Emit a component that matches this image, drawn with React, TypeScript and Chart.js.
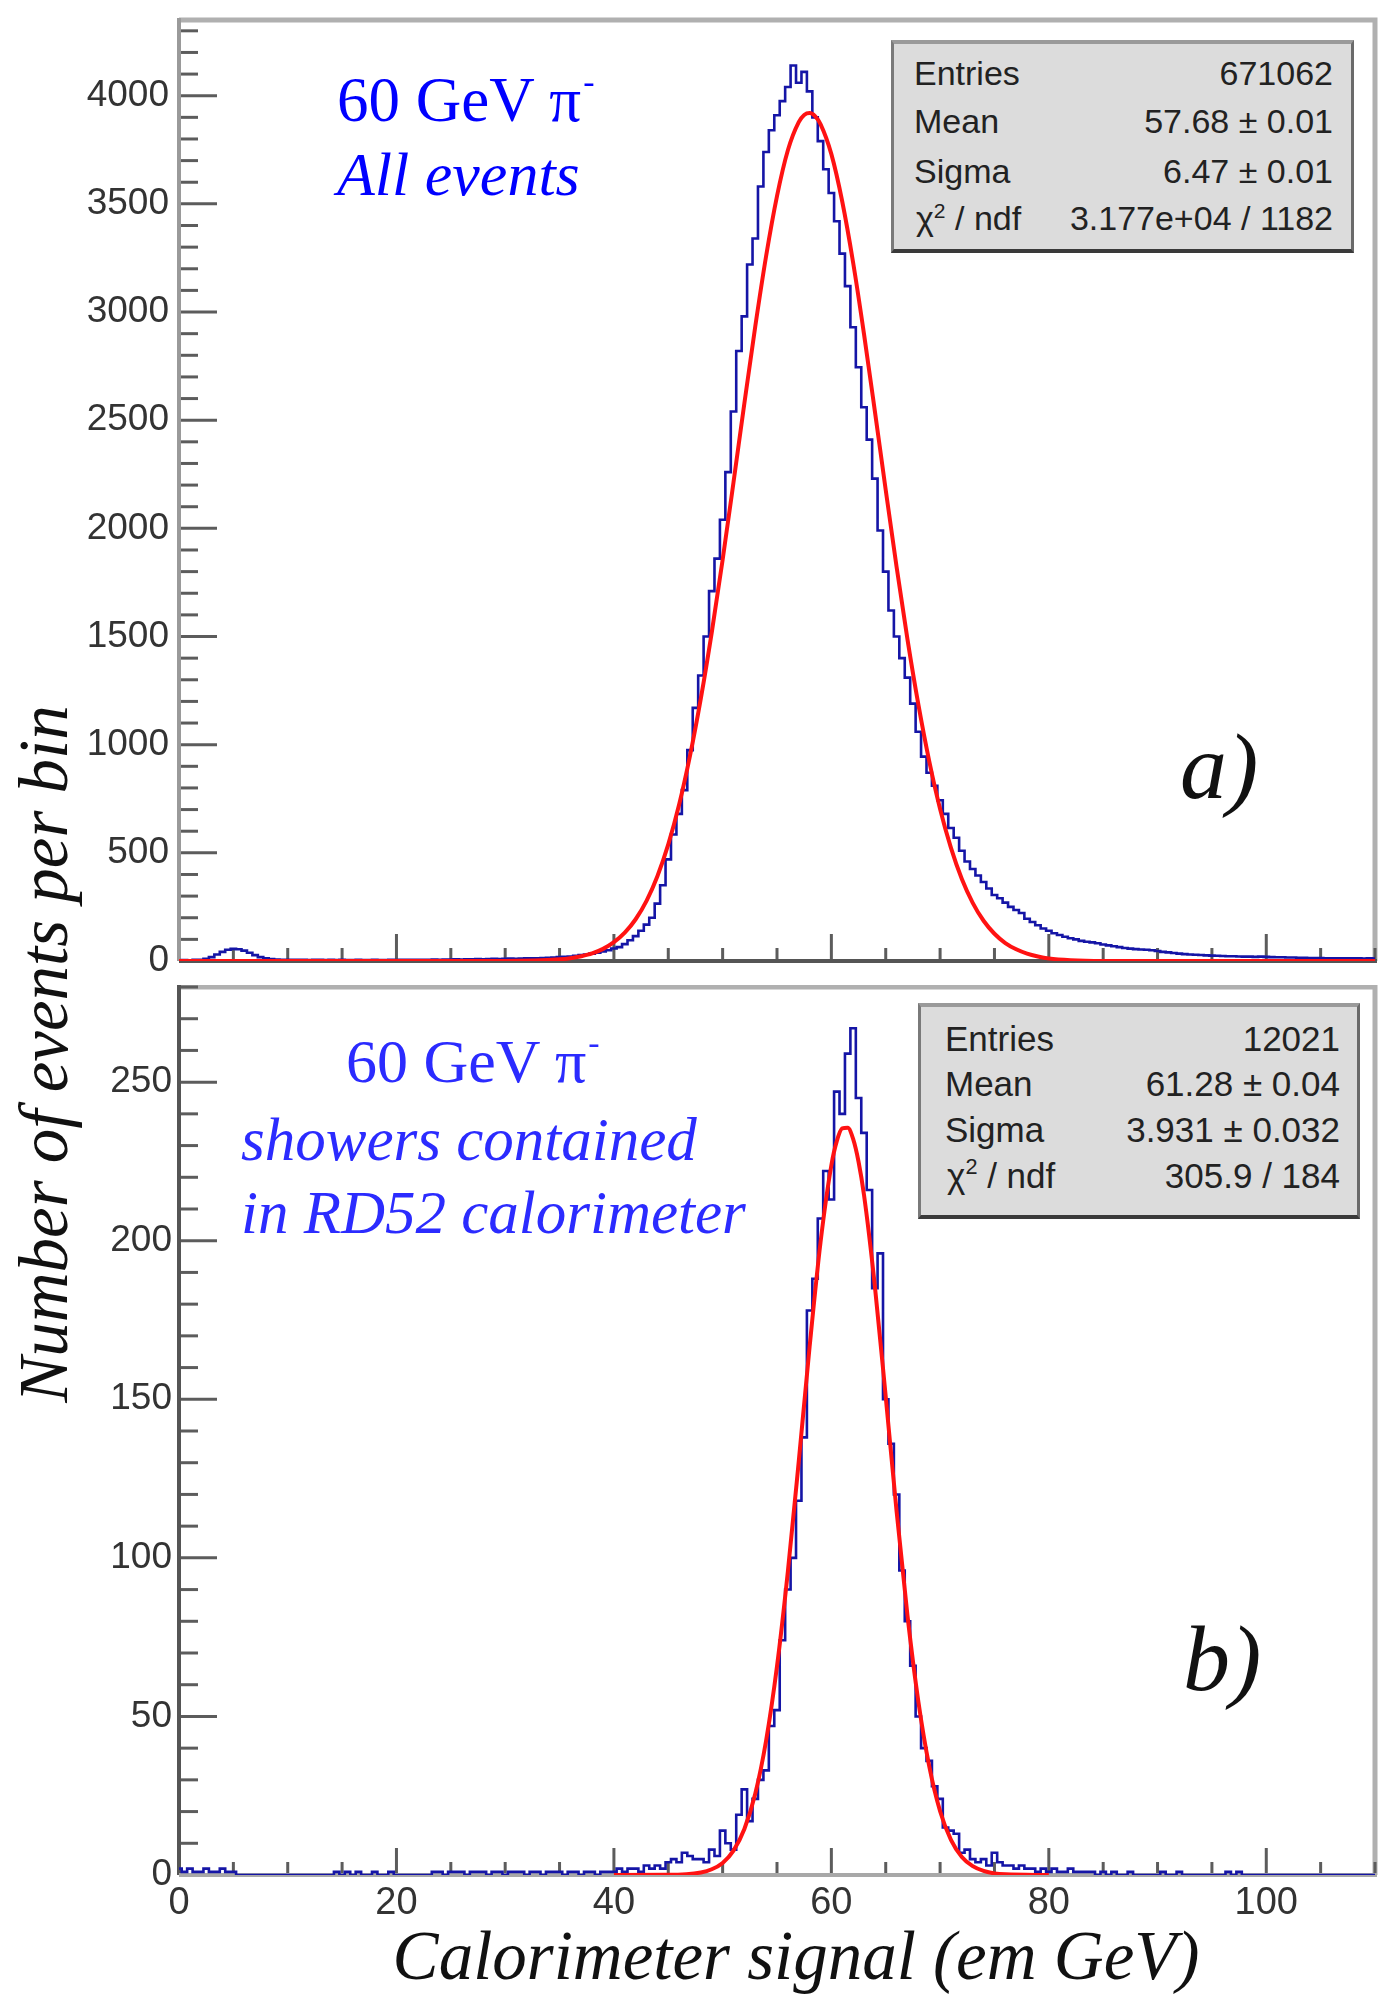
import React, { useEffect, useRef } from "react";
import { Chart, registerables } from "chart.js";

Chart.register(...registerables);

const SERIF = '"Liberation Serif", "DejaVu Serif", serif';
const SANS = '"Liberation Sans", Arial, sans-serif';
const BLUE = "#1515a6";
const RED = "#ff1212";

// ---------- data ----------
const BIN_WIDTH = 0.5; // GeV per plotted bin
const X_MIN = 0;
const X_MAX = 110;
const X_LABELS = [0, 20, 40, 60, 80, 100];

// panel a) histogram, bins from 0 GeV in 0.5 GeV steps (10 values per 5 GeV)
const histA = [
  3, 4, 3, 5, 6, 10, 18, 30, 42, 52,
  56, 54, 48, 38, 27, 18, 12, 9, 7, 6,
  6, 5, 6, 5, 4, 5, 5, 4, 5, 4,
  5, 4, 4, 5, 4, 4, 5, 4, 4, 5,
  4, 5, 5, 6, 5, 6, 6, 7, 6, 7,
  7, 8, 7, 8, 8, 9, 8, 9, 10, 9,
  10, 11, 10, 11, 12, 12, 13, 14, 15, 16,
  18, 19, 21, 24, 27, 30, 34, 38, 44, 50,
  58, 64, 78, 96, 115, 140, 168, 200, 265, 350,
  470, 585, 680, 790, 975, 1170, 1320, 1500, 1710, 1860,
  2040, 2260, 2540, 2820, 2980, 3220, 3340, 3580, 3740, 3840,
  3910, 3975, 4040, 4140, 4060, 4110, 4020, 3900, 3790, 3660,
  3550, 3420, 3270, 3120, 2930, 2745, 2560, 2410, 2230, 1990,
  1800, 1620, 1500, 1400, 1310, 1190, 1060, 945, 870, 810,
  743, 680, 615, 570, 510, 460, 425, 395, 365, 335,
  305, 290, 270, 250, 236, 222, 195, 180, 165, 150,
  140, 128, 120, 112, 105, 100, 93, 89, 86, 82,
  76, 72, 68, 64, 60, 57, 55, 53, 52, 50,
  46, 42, 40, 37, 34, 32, 30, 29, 28, 26,
  25, 24, 23, 22, 22, 21, 20, 20, 19, 20,
  19, 18, 17, 17, 16, 16, 15, 15, 14, 14,
  14, 13, 13, 13, 12, 12, 12, 12, 11, 12,
  11,
];

// panel a) fitted curve (read off the picture)
const fitAx = [0, 30, 35, 36, 37, 38, 39, 40, 41, 42, 43, 44, 45, 46, 47, 48, 49, 50, 51, 52, 53, 54, 55, 56, 57, 57.5, 58, 58.5, 59, 60, 61, 62, 63, 64, 65, 66, 67, 68, 69, 70, 71, 72, 73, 74, 75, 76, 77, 78, 79, 80, 82, 85, 90, 110];
const fitAy = [0, 0.4, 7.7, 13, 22, 35, 56, 87, 131, 193, 278, 392, 539, 723, 949, 1215, 1519, 1855, 2213, 2578, 2933, 3259, 3536, 3748, 3878, 3911, 3920, 3906, 3869, 3730, 3511, 3229, 2899, 2542, 2177, 1821, 1487, 1186, 924, 703, 523, 379, 269, 186, 126, 83, 54, 34, 21, 12, 4, 0.4, 0, 0];

// panel b) histogram, bins from 0 GeV in 0.5 GeV steps
const histB = [
  2, 1, 2, 1, 1, 2, 1, 1, 2, 1,
  1, 0, 0, 0, 0, 0, 0, 0, 0, 0,
  0, 0, 0, 0, 0, 0, 0, 0, 0, 1,
  0, 1, 0, 1, 0, 0, 1, 0, 0, 1,
  0, 0, 0, 0, 0, 0, 0, 1, 1, 0,
  1, 1, 1, 0, 1, 1, 1, 0, 1, 1,
  0, 1, 1, 1, 0, 1, 1, 0, 1, 1,
  1, 0, 1, 1, 0, 1, 1, 0, 1, 1,
  1, 2, 1, 2, 2, 1, 3, 2, 3, 2,
  4, 5, 4, 7, 6, 5, 5, 4, 8, 6,
  14, 10, 8, 19, 27, 17, 24, 30, 33, 47,
  52, 74, 90, 100, 118, 138, 178, 188, 207, 222,
  213, 247, 240, 259, 267, 245, 234, 216, 185, 196,
  150, 136, 120, 96, 80, 66, 50, 40, 36, 28,
  24, 15, 14, 13, 7, 8, 5, 4, 5, 3,
  7, 4, 3, 3, 2, 3, 2, 2, 1, 2,
  1, 2, 1, 1, 2, 1, 1, 1, 1, 0,
  1, 0, 1, 0, 0, 1, 0, 0, 0, 0,
  0, 1, 0, 0, 1, 0, 0, 0, 0, 0,
  0, 0, 0, 1, 0, 1, 0, 0, 0, 0,
  0, 0, 0, 0, 0, 0, 0, 0, 0, 0,
  0, 0, 0, 0, 0, 0, 0, 0, 0, 0,
  0,
];

// panel b) fitted curve
const fitBx = [40, 45, 48, 49, 50, 51, 52, 53, 54, 55, 56, 57, 58, 59, 60, 60.5, 61, 61.5, 62, 62.5, 63, 64, 65, 66, 67, 68, 69, 70, 71, 72, 73, 74, 75, 76, 80];
const fitBy = [0, 0.04, 0.8, 1.8, 3.8, 7.7, 14.5, 25.6, 42.4, 65.8, 95.7, 130.4, 166.6, 199.4, 223.8, 231.4, 235.4, 235.6, 232.1, 224.9, 214.5, 185.7, 150.8, 114.7, 81.8, 54.7, 34.3, 20.1, 11.1, 5.7, 2.8, 1.3, 0.5, 0.2, 0];

// axis ranges / tick labels
const Y_MAX_A = 4350;
const Y_TICKS_A = [0, 500, 1000, 1500, 2000, 2500, 3000, 3500, 4000];
const Y_MINOR_A = 100;
const Y_MAX_B = 280;
const Y_TICKS_B = [0, 50, 100, 150, 200, 250];
const Y_MINOR_B = 10;

// stats boxes
const statLabels = ["Entries", "Mean", "Sigma", "chi2"];
const statValuesA = ["671062", "57.68 \u00b1 0.01", "6.47 \u00b1 0.01", "3.177e+04 / 1182"];
const statValuesB = ["12021", "61.28 \u00b1 0.04", "3.931 \u00b1 0.032", "305.9 / 184"];

// ---------- frame / inner ticks plugin ----------
const framePlugin = {
  id: "rootFrame",
  beforeDatasetsDraw(chart: any) {
    const o = chart.options.plugins.rootFrame;
    const { ctx, chartArea: a, scales } = chart;
    ctx.save();
    // top & right frame
    ctx.strokeStyle = "#b0b0b0";
    ctx.lineWidth = 5;
    ctx.beginPath();
    ctx.moveTo(a.left, a.top);
    ctx.lineTo(a.right, a.top);
    ctx.lineTo(a.right, a.bottom);
    ctx.stroke();
    // y ticks
    const ys = scales.y;
    const yMajor = o.yTicks[1] - o.yTicks[0];
    ctx.strokeStyle = "#5c5c5c";
    ctx.lineWidth = 3;
    const nY = Math.floor(ys.max / o.yMinor + 1e-6);
    for (let i = 0; i <= nY; i++) {
      const v = i * o.yMinor;
      const py = ys.getPixelForValue(v);
      const major = Math.abs(v / yMajor - Math.round(v / yMajor)) < 1e-6;
      ctx.beginPath();
      ctx.moveTo(a.left, py);
      ctx.lineTo(a.left + (major ? 38 : 19), py);
      ctx.stroke();
    }
    // x ticks
    const xs = scales.x;
    const nX = Math.floor((xs.max - xs.min) / 5 + 1e-6);
    for (let i = 0; i <= nX; i++) {
      const v = xs.min + i * 5;
      const px = xs.getPixelForValue(v);
      const major = v % 20 === 0;
      ctx.beginPath();
      ctx.moveTo(px, a.bottom);
      ctx.lineTo(px, a.bottom - (major ? 27 : 13));
      ctx.stroke();
    }
    // axes
    ctx.lineWidth = 4;
    ctx.strokeStyle = o.leftColor;
    ctx.beginPath();
    ctx.moveTo(a.left, a.top - 2);
    ctx.lineTo(a.left, a.bottom);
    ctx.stroke();
    ctx.strokeStyle = o.bottomColor;
    ctx.beginPath();
    ctx.moveTo(a.left, a.bottom);
    ctx.lineTo(a.right + 2, a.bottom);
    ctx.stroke();
    ctx.restore();
  },
};

function zeroPad(s: any) {
  s.paddingTop = 0;
  s.paddingBottom = 0;
  s.paddingLeft = 0;
  s.paddingRight = 0;
}

function buildConfig(hist: number[], fx: number[], fy: number[], p: any) {
  return {
    type: "line",
    data: {
      datasets: [
        {
          data: fx.map((x, i) => ({ x, y: fy[i] })),
          borderColor: RED,
          borderWidth: 4,
          cubicInterpolationMode: "monotone",
          pointRadius: 0,
          fill: false,
        },
        {
          data: hist.map((v, i) => ({ x: X_MIN + i * BIN_WIDTH, y: v })),
          borderColor: BLUE,
          borderWidth: 2.6,
          stepped: "middle",
          pointRadius: 0,
          fill: false,
        },
      ],
    },
    options: {
      responsive: false,
      animation: false,
      events: [],
      layout: { padding: { left: 0, right: 19, top: p.padTop, bottom: 0 } },
      plugins: {
        legend: { display: false },
        tooltip: { enabled: false },
        rootFrame: p,
      },
      scales: {
        x: {
          type: "linear",
          min: X_MIN,
          max: X_MAX,
          grid: { display: false, drawTicks: false },
          border: { display: false },
          ticks: {
            display: p.xLabels,
            autoSkip: false,
            maxRotation: 0,
            padding: 6,
            color: "#333",
            font: { family: SANS, size: 38 },
          },
          afterBuildTicks: (s: any) => {
            s.ticks = X_LABELS.map((v) => ({ value: v }));
          },
          afterFit: (s: any) => {
            s.height = p.xHeight;
            zeroPad(s);
          },
        },
        y: {
          type: "linear",
          min: 0,
          max: p.yMax,
          grid: { display: false, drawTicks: false },
          border: { display: false },
          ticks: {
            autoSkip: false,
            padding: p.yPad,
            color: "#333",
            font: { family: SANS, size: 37 },
            callback: (v: any) => String(v),
          },
          afterBuildTicks: (s: any) => {
            s.ticks = p.yTicks.map((v: number) => ({ value: v }));
          },
          afterFit: (s: any) => {
            s.width = 179;
            zeroPad(s);
          },
        },
      },
    },
    plugins: [framePlugin],
  } as any;
}

function Txt(props: any) {
  const { x, right, base, size, color = "#000", italic = false, family = SERIF, children } = props;
  const style: any = {
    position: "absolute",
    top: base - 0.84 * size,
    fontSize: size,
    lineHeight: `${size}px`,
    fontFamily: family,
    fontStyle: italic ? "italic" : "normal",
    color,
    whiteSpace: "nowrap",
  };
  if (right !== undefined) style.right = 1394 - right;
  else style.left = x;
  return <div style={style}>{children}</div>;
}

function StatsBox(props: any) {
  const { left, top, width, height, labelX, valueRight, baselines, values, size } = props;
  return (
    <>
      <div
        style={{
          position: "absolute",
          left,
          top,
          width,
          height,
          boxSizing: "border-box",
          background: "#dcdcdc",
          borderTop: "4px solid #9a9a9a",
          borderLeft: "3px solid #7a7a7a",
          borderRight: "3px solid #6a6a6a",
          borderBottom: "4px solid #3a3a3a",
        }}
      />
      {statLabels.map((l, i) => (
        <Txt key={"l" + i} x={labelX + (i === 3 ? 2 : 0)} base={baselines[i]} size={size} family={SANS} color="#222">
          {l === "chi2" ? (
            <span>
              {"\u03c7"}
              <span style={{ fontSize: size * 0.62, position: "relative", top: -size * 0.38 }}>2</span>
              {" / ndf"}
            </span>
          ) : (
            l
          )}
        </Txt>
      ))}
      {values.map((v: string, i: number) => (
        <Txt key={"v" + i} right={valueRight} base={baselines[i]} size={size} family={SANS} color="#222">
          {v}
        </Txt>
      ))}
    </>
  );
}

export default function App() {
  const refA = useRef<HTMLCanvasElement>(null);
  const refB = useRef<HTMLCanvasElement>(null);

  useEffect(() => {
    const ca = new Chart(
      refA.current as HTMLCanvasElement,
      buildConfig(histA, fitAx, fitAy, {
        padTop: 20,
        xHeight: 24,
        xLabels: false,
        yMax: Y_MAX_A,
        yTicks: Y_TICKS_A,
        yMinor: Y_MINOR_A,
        yPad: 10,
        leftColor: "#9a9a9a",
        bottomColor: "#555",
      })
    );
    const cb = new Chart(
      refB.current as HTMLCanvasElement,
      buildConfig(histB, fitBx, fitBy, {
        padTop: 2,
        xHeight: 134,
        xLabels: true,
        yMax: Y_MAX_B,
        yTicks: Y_TICKS_B,
        yMinor: Y_MINOR_B,
        yPad: 7,
        leftColor: "#555",
        bottomColor: "#a8a8a8",
      })
    );
    return () => {
      ca.destroy();
      cb.destroy();
    };
  }, []);

  const minus = (
    <span style={{ fontSize: 34, position: "relative", top: -28, marginLeft: 2 }}>-</span>
  );

  return (
    <div style={{ position: "absolute", left: 0, top: 0, width: 1394, height: 2009, background: "#fff", overflow: "hidden" }}>
      <canvas ref={refA} width={1394} height={985} style={{ position: "absolute", left: 0, top: 0 }} />
      <canvas ref={refB} width={1394} height={1024} style={{ position: "absolute", left: 0, top: 985 }} />

      {/* axis titles */}
      <div
        style={{
          position: "absolute",
          left: 44 - 450,
          top: 1054 - 40,
          width: 900,
          height: 80,
          lineHeight: "80px",
          textAlign: "center",
          fontFamily: SERIF,
          fontStyle: "italic",
          fontSize: 69,
          color: "#111",
          transform: "rotate(-90deg)",
          transformOrigin: "50% 50%",
          whiteSpace: "nowrap",
        }}
      >
        Number of events per bin
      </div>
      <div
        style={{
          position: "absolute",
          left: 296,
          top: 1980 - 0.84 * 69,
          width: 1000,
          lineHeight: "69px",
          textAlign: "center",
          fontFamily: SERIF,
          fontStyle: "italic",
          fontSize: 69,
          color: "#111",
          whiteSpace: "nowrap",
        }}
      >
        Calorimeter signal (em GeV)
      </div>

      {/* panel a annotations */}
      <Txt x={337} base={122} size={63} color="#0000ff">
        60 GeV {"\u03c0"}
        {minus}
      </Txt>
      <Txt x={337} base={195} size={62} color="#0000ff" italic>
        All events
      </Txt>
      <Txt x={1180} base={798} size={94} italic color="#111">
        a)
      </Txt>
      <StatsBox
        left={891}
        top={40}
        width={463}
        height={213}
        labelX={914}
        valueRight={1333}
        baselines={[85, 133, 183, 230]}
        values={statValuesA}
        size={34}
      />

      {/* panel b annotations */}
      <Txt x={346} base={1082} size={62} color="#2b2bff">
        60 GeV {"\u03c0"}
        {minus}
      </Txt>
      <Txt x={241} base={1160} size={61} color="#2b2bff" italic>
        showers contained
      </Txt>
      <Txt x={241} base={1233} size={61} color="#2b2bff" italic>
        in RD52 calorimeter
      </Txt>
      <Txt x={1183} base={1690} size={94} italic color="#111">
        b)
      </Txt>
      <StatsBox
        left={918}
        top={1003}
        width={442}
        height={216}
        labelX={945}
        valueRight={1340}
        baselines={[1050, 1095, 1141, 1187]}
        values={statValuesB}
        size={35}
      />
    </div>
  );
}
